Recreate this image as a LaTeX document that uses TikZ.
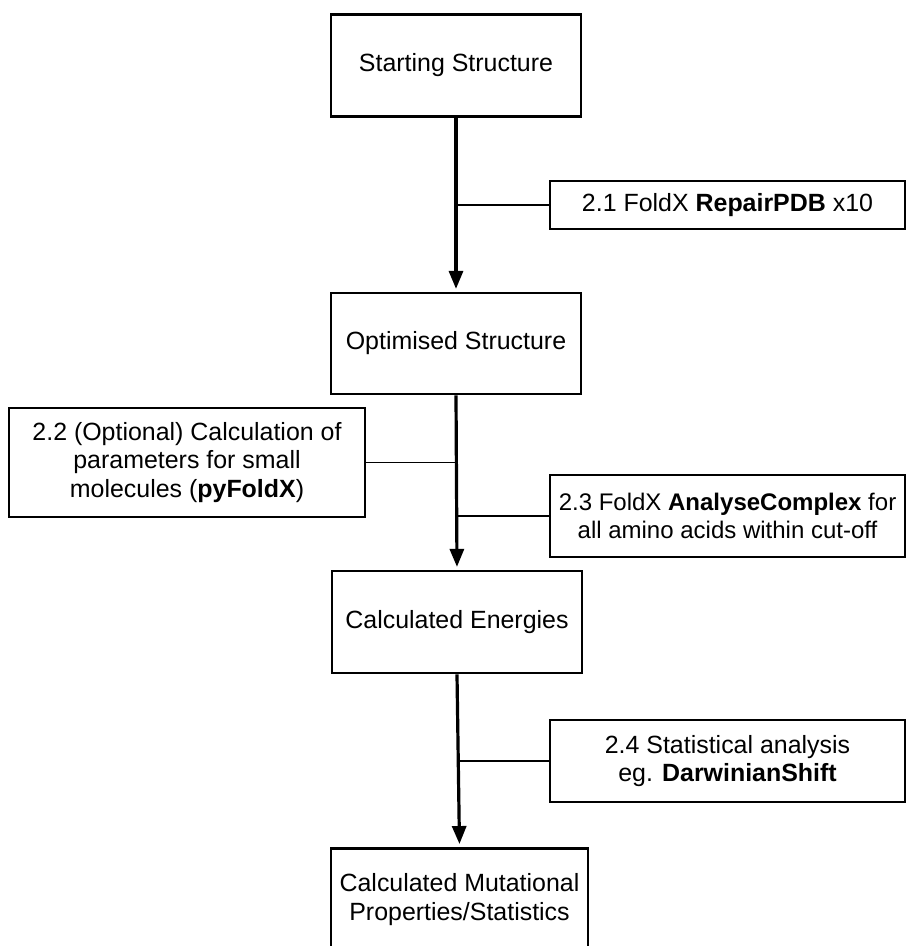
\documentclass[tikz,border=0pt]{standalone}
\usepackage{fontspec}
\setmainfont{Liberation Sans}
\usetikzlibrary{arrows.meta}
\begin{document}
\begin{tikzpicture}[x=0.75pt,y=-0.75pt,
  mainbox/.style={draw, line width=2.2pt, inner sep=0pt, align=center, minimum width=187.5pt, minimum height=77pt, font=\fontsize{18.7}{21.5}\selectfont},
  labelbox/.style={draw, line width=1.1pt, inner sep=0pt, align=center, minimum width=266.25pt, font=\fontsize{18.7}{21.5}\selectfont},
  flow/.style={line width=2.4pt, -{Triangle[length=13.5pt,width=10.5pt]}, shorten >=2pt},
  tick/.style={line width=0.9pt}]
\useasboundingbox (0,0) rectangle (906,946);
\clip (0,0) rectangle (906,946);
\node[mainbox] (s1) at (456,65.5) {Starting Structure};
\node[mainbox, minimum height=75.75pt] (s2) at (456,343.5) {Optimised Structure};
\node[mainbox, minimum height=76.5pt] (s3) at (457,622) {Calculated Energies};
\node[mainbox, minimum width=192.75pt] (s4) at (459.5,899.5) {Calculated Mutational\\Properties/Statistics};
\node[labelbox, minimum height=36pt] (l1) at (727.5,205) {2.1 FoldX \textbf{RepairPDB} x10};
\node[labelbox, minimum width=267pt, minimum height=81.75pt] (l2) at (187,462.5) {2.2 (Optional) Calculation of\\parameters for small\\molecules (\textbf{pyFoldX})};
\node[labelbox, minimum height=61.5pt, font=\fontsize{18}{21.5}\selectfont] (l3) at (727.5,516) {2.3 FoldX \textbf{AnalyseComplex} for\\all amino acids within cut-off};
\node[labelbox, minimum height=61.5pt] (l4) at (727.5,761) {2.4 Statistical analysis\\eg. \textbf{DarwinianShift}};
\draw[flow] (s1.south) -- (s2.north);
\draw[flow] (s2.south) -- (s3.north);
\draw[flow] (s3.south) -- (s4.north);
\draw[tick] (l1.west) -- (l1.west -| s1.south);
\draw[tick] (l2.east) -- (l2.east -| s2.south);
\draw[tick] (l3.west) -- (l3.west -| s2.south);
\draw[tick] (l4.west) -- (l4.west -| s3.south);
\end{tikzpicture}
\end{document}
